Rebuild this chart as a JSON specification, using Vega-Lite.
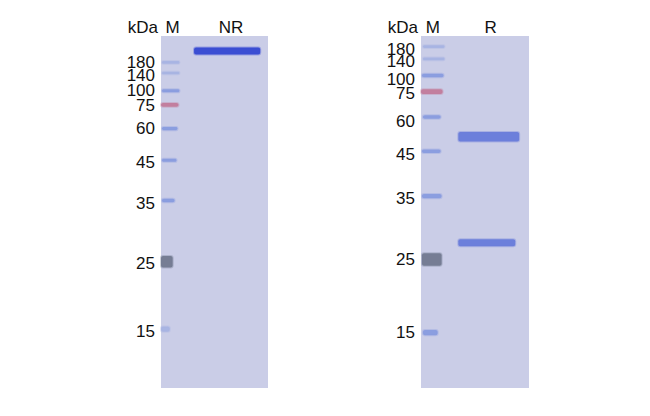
{
  "$schema": "https://vega.github.io/schema/vega-lite/v6.json",
  "background": "white",
  "padding": {"left": 126, "top": 19, "right": 0, "bottom": 0},
  "spacing": 118,
  "config": {
    "view": {"fill": "#cacde7", "stroke": null},
    "range": {"category": ["#a9b5e3", "#8b9ee0", "#c27f9f", "#767d94", "#3b4ed3", "#6c7fdb"]}
  },
  "datasets": {
    "lanes": [
      {"gel": "NR", "lane": "kDa", "center": 0},
      {"gel": "NR", "lane": "M", "center": 12},
      {"gel": "NR", "lane": "NR", "center": 72},
      {"gel": "R", "lane": "kDa", "center": 0},
      {"gel": "R", "lane": "M", "center": 12},
      {"gel": "R", "lane": "R", "center": 71}
    ],
    "bands": [
      {"gel": "NR", "lane": "M", "kDa": 180, "mig": 30, "labelMig": 31, "top": 28.5, "bottom": 31.5, "left": 1, "right": 19, "stain": "faint"},
      {"gel": "NR", "lane": "M", "kDa": 140, "mig": 42, "labelMig": 45, "top": 40.5, "bottom": 43.5, "left": 1, "right": 19, "stain": "faint"},
      {"gel": "NR", "lane": "M", "kDa": 100, "mig": 62, "labelMig": 63, "top": 60.5, "bottom": 64, "left": 1, "right": 19, "stain": "marker"},
      {"gel": "NR", "lane": "M", "kDa": 75, "mig": 78, "labelMig": 80, "top": 76, "bottom": 80.5, "left": 0, "right": 18, "stain": "red"},
      {"gel": "NR", "lane": "M", "kDa": 60, "mig": 105, "labelMig": 106, "top": 103.5, "bottom": 107, "left": 1, "right": 17, "stain": "marker"},
      {"gel": "NR", "lane": "M", "kDa": 45, "mig": 141, "labelMig": 144, "top": 139.5, "bottom": 143, "left": 1, "right": 16, "stain": "marker"},
      {"gel": "NR", "lane": "M", "kDa": 35, "mig": 187, "labelMig": 191, "top": 185, "bottom": 189, "left": 1, "right": 14, "stain": "marker"},
      {"gel": "NR", "lane": "M", "kDa": 25, "mig": 257, "labelMig": 259, "top": 250, "bottom": 263, "left": 0, "right": 12, "stain": "dark"},
      {"gel": "NR", "lane": "M", "kDa": 15, "mig": 333, "labelMig": 336, "top": 330, "bottom": 336, "left": 0, "right": 9, "stain": "faint"},
      {"gel": "NR", "lane": "NR", "kDa": null, "mig": 17, "labelMig": null, "top": 13, "bottom": 21, "left": 34, "right": 102, "stain": "sample"},
      {"gel": "R", "lane": "M", "kDa": 180, "mig": 12, "labelMig": 16, "top": 10.5, "bottom": 13.5, "left": 2, "right": 24, "stain": "faint"},
      {"gel": "R", "lane": "M", "kDa": 140, "mig": 26, "labelMig": 30, "top": 24.5, "bottom": 27.5, "left": 2, "right": 24, "stain": "faint"},
      {"gel": "R", "lane": "M", "kDa": 100, "mig": 45, "labelMig": 50, "top": 43, "bottom": 47, "left": 1, "right": 23, "stain": "marker"},
      {"gel": "R", "lane": "M", "kDa": 75, "mig": 63, "labelMig": 66, "top": 60.5, "bottom": 66, "left": 0, "right": 22, "stain": "red"},
      {"gel": "R", "lane": "M", "kDa": 60, "mig": 92, "labelMig": 98, "top": 90, "bottom": 94, "left": 2, "right": 20, "stain": "marker"},
      {"gel": "R", "lane": "M", "kDa": 45, "mig": 131, "labelMig": 135, "top": 129, "bottom": 133, "left": 1, "right": 20, "stain": "marker"},
      {"gel": "R", "lane": "M", "kDa": 35, "mig": 182, "labelMig": 185, "top": 179.5, "bottom": 184.5, "left": 1, "right": 21, "stain": "marker"},
      {"gel": "R", "lane": "M", "kDa": 25, "mig": 254, "labelMig": 255, "top": 247, "bottom": 261, "left": 1, "right": 21, "stain": "dark"},
      {"gel": "R", "lane": "M", "kDa": 15, "mig": 337, "labelMig": 337, "top": 334, "bottom": 340, "left": 2, "right": 17, "stain": "marker"},
      {"gel": "R", "lane": "R", "kDa": null, "mig": 114, "labelMig": null, "top": 109, "bottom": 120, "left": 38, "right": 100, "stain": "reduced"},
      {"gel": "R", "lane": "R", "kDa": null, "mig": 235, "labelMig": null, "top": 231, "bottom": 239, "left": 38, "right": 96, "stain": "reduced"}
    ]
  },
  "hconcat": [
    {
      "width": 107,
      "height": 352,
      "layer": [
        {
          "data": {"name": "bands"},
          "transform": [{"filter": "datum.gel == 'NR'"}],
          "mark": {"type": "rect", "cornerRadius": 2, "strokeWidth": 2, "strokeOpacity": 0.35},
          "encoding": {
            "x": {"field": "left", "type": "quantitative", "scale": {"domain": [0, 107]}, "axis": null},
            "x2": {"field": "right"},
            "y": {"field": "top", "type": "quantitative", "scale": {"domain": [0, 352], "reverse": true}, "axis": null},
            "y2": {"field": "bottom"},
            "color": {
              "field": "stain", "type": "nominal", "legend": null,
              "scale": {"domain": ["faint", "marker", "red", "dark", "sample", "reduced"]}
            },
            "stroke": {
              "field": "stain", "type": "nominal", "legend": null,
              "scale": {"domain": ["faint", "marker", "red", "dark", "sample", "reduced"]}
            }
          }
        },
        {
          "data": {"name": "bands"},
          "transform": [{"filter": "datum.gel == 'NR' && datum.lane == 'M'"}],
          "mark": {"type": "text", "align": "right", "baseline": "middle", "dx": -6, "font": "Liberation Sans", "fontSize": 17, "color": "#111111"},
          "encoding": {
            "x": {"datum": 0, "type": "quantitative"},
            "y": {"field": "labelMig", "type": "quantitative"},
            "text": {"field": "kDa"}
          }
        },
        {
          "data": {"name": "lanes"},
          "transform": [{"filter": "datum.gel == 'NR' && datum.lane != 'kDa'"}],
          "mark": {"type": "text", "align": "center", "baseline": "alphabetic", "dy": -3, "font": "Liberation Sans", "fontSize": 17, "color": "#111111"},
          "encoding": {
            "x": {"field": "center", "type": "quantitative"},
            "y": {"datum": 0, "type": "quantitative"},
            "text": {"field": "lane"}
          }
        },
        {
          "data": {"name": "lanes"},
          "transform": [{"filter": "datum.gel == 'NR' && datum.lane == 'kDa'"}],
          "mark": {"type": "text", "align": "right", "baseline": "alphabetic", "dx": -3, "dy": -3, "font": "Liberation Sans", "fontSize": 17, "color": "#111111"},
          "encoding": {
            "x": {"field": "center", "type": "quantitative"},
            "y": {"datum": 0, "type": "quantitative"},
            "text": {"field": "lane"}
          }
        }
      ]
    },
    {
      "width": 108,
      "height": 352,
      "layer": [
        {
          "data": {"name": "bands"},
          "transform": [{"filter": "datum.gel == 'R'"}],
          "mark": {"type": "rect", "cornerRadius": 2, "strokeWidth": 2, "strokeOpacity": 0.35},
          "encoding": {
            "x": {"field": "left", "type": "quantitative", "scale": {"domain": [0, 108]}, "axis": null},
            "x2": {"field": "right"},
            "y": {"field": "top", "type": "quantitative", "scale": {"domain": [0, 352], "reverse": true}, "axis": null},
            "y2": {"field": "bottom"},
            "color": {
              "field": "stain", "type": "nominal", "legend": null,
              "scale": {"domain": ["faint", "marker", "red", "dark", "sample", "reduced"]}
            },
            "stroke": {
              "field": "stain", "type": "nominal", "legend": null,
              "scale": {"domain": ["faint", "marker", "red", "dark", "sample", "reduced"]}
            }
          }
        },
        {
          "data": {"name": "bands"},
          "transform": [{"filter": "datum.gel == 'R' && datum.lane == 'M'"}],
          "mark": {"type": "text", "align": "right", "baseline": "middle", "dx": -6, "font": "Liberation Sans", "fontSize": 17, "color": "#111111"},
          "encoding": {
            "x": {"datum": 0, "type": "quantitative"},
            "y": {"field": "labelMig", "type": "quantitative"},
            "text": {"field": "kDa"}
          }
        },
        {
          "data": {"name": "lanes"},
          "transform": [{"filter": "datum.gel == 'R' && datum.lane != 'kDa'"}],
          "mark": {"type": "text", "align": "center", "baseline": "alphabetic", "dy": -3, "font": "Liberation Sans", "fontSize": 17, "color": "#111111"},
          "encoding": {
            "x": {"field": "center", "type": "quantitative"},
            "y": {"datum": 0, "type": "quantitative"},
            "text": {"field": "lane"}
          }
        },
        {
          "data": {"name": "lanes"},
          "transform": [{"filter": "datum.gel == 'R' && datum.lane == 'kDa'"}],
          "mark": {"type": "text", "align": "right", "baseline": "alphabetic", "dx": -3, "dy": -3, "font": "Liberation Sans", "fontSize": 17, "color": "#111111"},
          "encoding": {
            "x": {"field": "center", "type": "quantitative"},
            "y": {"datum": 0, "type": "quantitative"},
            "text": {"field": "lane"}
          }
        }
      ]
    }
  ]
}
